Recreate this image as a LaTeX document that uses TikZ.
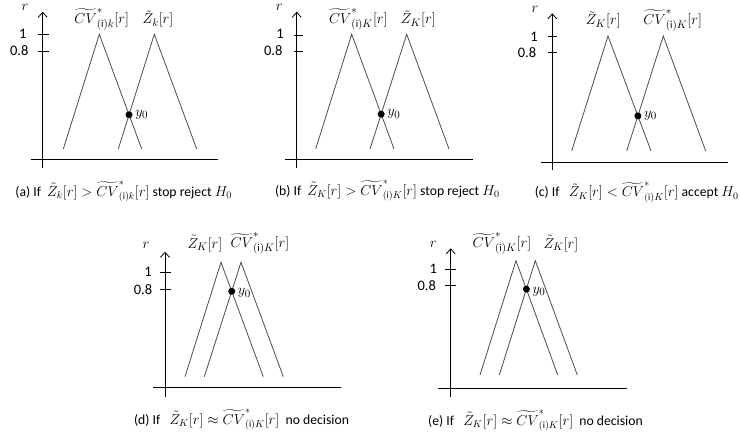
\documentclass[tikz,border=0pt]{standalone}
\usepackage{amsmath}
\usepackage{fontspec}
\setmainfont{Carlito}
\usetikzlibrary{arrows.meta}
\newcommand{\CVs}[1]{\widetilde{CV}^{*}_{(\mathrm{i})#1}[r]}
\newcommand{\Zt}[1]{\tilde{Z}_{#1}[r]}
\begin{document}
\begin{tikzpicture}[x=1pt,y=-1pt,
  axisline/.style={line width=0.8pt,black},
  yaxis/.style={line width=0.8pt,black,-{Straight Barb[length=5pt,width=9pt]}},
  tickline/.style={line width=0.7pt,black},
  tri/.style={line width=0.8pt,black!70},
  dot/.style={circle,fill=black,inner sep=0pt,minimum size=7pt},
  lbl/.style={font=\fontsize{14.5}{16}\selectfont,inner sep=0pt},
  mlbl/.style={font=\fontsize{15}{17}\selectfont,inner sep=0pt},
  captext/.style={font=\fontsize{13.7}{16}\selectfont,inner sep=0pt},
  ylab/.style={font=\fontsize{15}{17}\selectfont,inner sep=0pt,anchor=west}]
\useasboundingbox (0,0) rectangle (740,435);

% ---------- panel (a)
\coordinate (a0) at (42.7,168); \coordinate (a1) at (42.7,11.7);
\draw[yaxis] (a0) -- (a1);
\coordinate (ah0) at (30.7,159); \coordinate (ah1) at (218,159);
\draw[axisline] (ah0) -- (ah1);
\coordinate (at1l) at (37.7,34.3); \coordinate (at1r) at (49,34.3);
\coordinate (at8l) at (37.7,51); \coordinate (at8r) at (49,51);
\draw[tickline] (at1l) -- (at1r); \draw[tickline] (at8l) -- (at8r);
\node[lbl] (aone) at (22.7,34.3) {1};
\node[lbl] (aeight) at (19.3,51) {0.8};
\node[mlbl] (ar) at (25,7) {$r$};
\coordinate (aCl) at (63.3,149); \coordinate (aCt) at (99.3,34.3); \coordinate (aCr) at (141.7,149);
\coordinate (aZl) at (118.3,149); \coordinate (aZt) at (154.3,34.3); \coordinate (aZr) at (196.7,149);
\draw[tri] (aCl) -- (aCt) -- (aCr);
\draw[tri] (aZl) -- (aZt) -- (aZr);
\node[dot] (ay) at (intersection of aCt--aCr and aZl--aZt) {};
\node[ylab] (ayl) at ([xshift=6pt]ay.center) {$y_0$};
\node[mlbl] (aCV) at (101.7,19) {$\CVs{k}$};
\node[mlbl] (aZ) at (158,19) {$\Zt{k}$};
\node[captext] (acap) at (123.7,191.5) {(a) If \ $\Zt{k} > \CVs{k}$ stop reject $H_0$};

% ---------- panel (b)
\coordinate (b0) at (296.7,168); \coordinate (b1) at (296.7,11.7);
\draw[yaxis] (b0) -- (b1);
\coordinate (bh0) at (285,159.3); \coordinate (bh1) at (473.3,159.3);
\draw[axisline] (bh0) -- (bh1);
\coordinate (bt1l) at (294.3,35); \coordinate (bt1r) at (303.3,35);
\coordinate (bt8l) at (294.3,51); \coordinate (bt8r) at (303.3,51);
\draw[tickline] (bt1l) -- (bt1r); \draw[tickline] (bt8l) -- (bt8r);
\node[lbl] (bone) at (280,34.3) {1};
\node[lbl] (beight) at (273.3,51) {0.8};
\node[mlbl] (br) at (279.3,7) {$r$};
\coordinate (bCl) at (315.7,149); \coordinate (bCt) at (351.7,34.3); \coordinate (bCr) at (394,149);
\coordinate (bZl) at (370,149); \coordinate (bZt) at (406.7,34.3); \coordinate (bZr) at (449,149);
\draw[tri] (bCl) -- (bCt) -- (bCr);
\draw[tri] (bZl) -- (bZt) -- (bZr);
\node[dot] (by) at (intersection of bCt--bCr and bZl--bZt) {};
\node[ylab] (byl) at ([xshift=6pt]by.center) {$y_0$};
\node[mlbl] (bCV) at (358.3,19) {$\CVs{K}$};
\node[mlbl] (bZ) at (418.3,19) {$\Zt{K}$};
\node[captext] (bcap) at (387.3,190.5) {(b) If \ $\Zt{K} > \CVs{K}$ stop reject $H_0$};

% ---------- panel (c)
\coordinate (c0) at (552.3,170); \coordinate (c1) at (552.3,13.3);
\draw[yaxis] (c0) -- (c1);
\coordinate (ch0) at (540.7,162.3); \coordinate (ch1) at (728.3,162.3);
\draw[axisline] (ch0) -- (ch1);
\coordinate (ct1l) at (548.3,36.7); \coordinate (ct1r) at (556.7,36.7);
\coordinate (ct8l) at (548.3,52.7); \coordinate (ct8r) at (556.7,52.7);
\draw[tickline] (ct1l) -- (ct1r); \draw[tickline] (ct8l) -- (ct8r);
\node[lbl] (cone) at (534,36.7) {1};
\node[lbl] (ceight) at (527,52.7) {0.8};
\node[mlbl] (cr) at (535,9) {$r$};
\coordinate (cZl) at (571.7,151); \coordinate (cZt) at (608,36); \coordinate (cZr) at (651,151);
\coordinate (cCl) at (626.7,151); \coordinate (cCt) at (663.3,36); \coordinate (cCr) at (705.7,151);
\draw[tri] (cZl) -- (cZt) -- (cZr);
\draw[tri] (cCl) -- (cCt) -- (cCr);
\node[dot] (cy) at (intersection of cZt--cZr and cCl--cCt) {};
\node[ylab] (cyl) at ([xshift=6pt]cy.center) {$y_0$};
\node[mlbl] (cZ) at (603.3,20) {$\Zt{K}$};
\node[mlbl] (cCV) at (672.7,20) {$\CVs{K}$};
\node[captext] (ccap) at (636.7,192.3) {(c) If \ \ $\Zt{K} < \CVs{K}$ accept $H_0$};

% ---------- panel (d)
\coordinate (d0) at (165,396.7); \coordinate (d1) at (165,251.7);
\draw[yaxis] (d0) -- (d1);
\coordinate (dh0) at (153.3,387.7); \coordinate (dh1) at (340.7,387.7);
\draw[axisline] (dh0) -- (dh1);
\coordinate (dt1l) at (160,272.3); \coordinate (dt1r) at (171,272.3);
\coordinate (dt8l) at (160,289.3); \coordinate (dt8r) at (171,289.3);
\draw[tickline] (dt1l) -- (dt1r); \draw[tickline] (dt8l) -- (dt8r);
\node[lbl] (done) at (148,272.3) {1};
\node[lbl] (deight) at (143,289.3) {0.8};
\node[mlbl] (dr) at (146,245) {$r$};
\coordinate (dZl) at (185,376.7); \coordinate (dZt) at (221,262.3); \coordinate (dZr) at (263.3,376.7);
\coordinate (dCl) at (204.3,376.7); \coordinate (dCt) at (241,262.3); \coordinate (dCr) at (283.3,376.7);
\draw[tri] (dZl) -- (dZt) -- (dZr);
\draw[tri] (dCl) -- (dCt) -- (dCr);
\node[dot] (dy) at (intersection of dZt--dZr and dCl--dCt) {};
\node[ylab] (dyl) at ([xshift=6pt,yshift=-2pt]dy.center) {$y_0$};
\node[mlbl] (dZ) at (205,243.3) {$\Zt{K}$};
\node[mlbl] (dCV) at (260,243.3) {$\CVs{K}$};
\node[captext] (dcap) at (241.5,419.5) {(d) If \ \ $\Zt{K} \approx \CVs{K}$ \ no decision};

% ---------- panel (e)
\coordinate (e0) at (450.7,396.7); \coordinate (e1) at (450.7,248.3);
\draw[yaxis] (e0) -- (e1);
\coordinate (eh0) at (438.3,388.3); \coordinate (eh1) at (626.7,388.3);
\draw[axisline] (eh0) -- (eh1);
\coordinate (et1l) at (445,269); \coordinate (et1r) at (456,269);
\coordinate (et8l) at (445,285.7); \coordinate (et8r) at (456,285.7);
\draw[tickline] (et1l) -- (et1r); \draw[tickline] (et8l) -- (et8r);
\node[lbl] (eone) at (433.3,269) {1};
\node[lbl] (eeight) at (426.7,285.7) {0.8};
\node[mlbl] (er) at (433.3,244.3) {$r$};
\coordinate (eCl) at (480,375); \coordinate (eCt) at (516,260.7); \coordinate (eCr) at (557.7,375);
\coordinate (eZl) at (499.3,375); \coordinate (eZt) at (535.3,260.7); \coordinate (eZr) at (577.3,375);
\draw[tri] (eCl) -- (eCt) -- (eCr);
\draw[tri] (eZl) -- (eZt) -- (eZr);
\node[dot] (ey) at (intersection of eCt--eCr and eZl--eZt) {};
\node[ylab] (eyl) at ([xshift=6pt,yshift=-3pt]ey.center) {$y_0$};
\node[mlbl] (eCV) at (502,243.3) {$\CVs{K}$};
\node[mlbl] (eZ) at (561,243.3) {$\Zt{K}$};
\node[captext] (ecap) at (535.5,420.7) {(e) If \ \ $\Zt{K} \approx \CVs{K}$ \ no decision};
\end{tikzpicture}
\end{document}
